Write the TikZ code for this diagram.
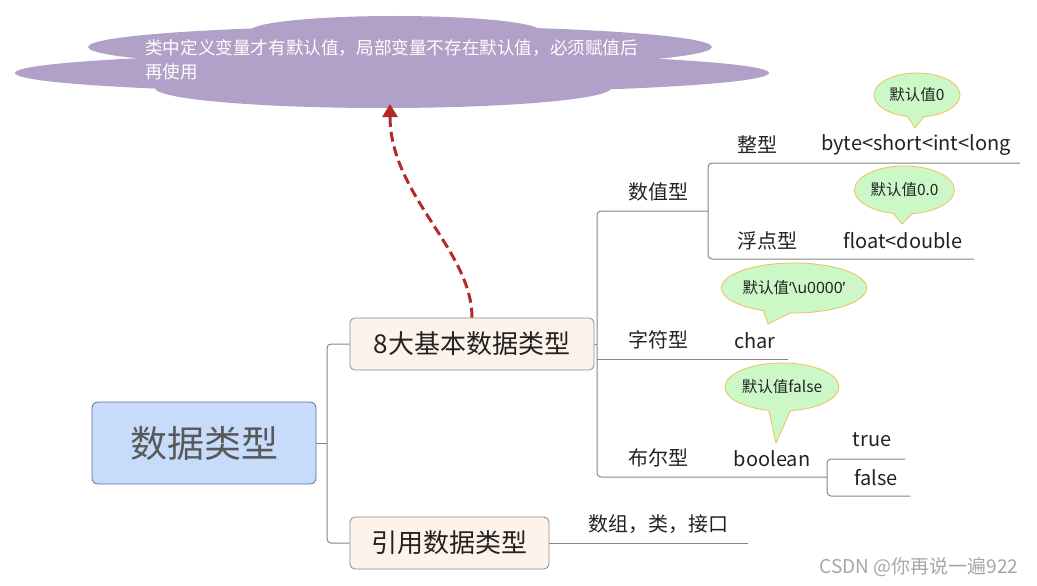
\documentclass[tikz,border=0pt]{standalone}
\usepackage{fontspec}
\setmainfont{Noto Sans CJK SC}
\newfontfamily\latinfont{Noto Sans}
\usetikzlibrary{shapes.geometric,shapes.callouts,calc,arrows.meta}
\definecolor{cloudc}{HTML}{B1A0C7}
\definecolor{arrowc}{HTML}{B22A2A}
\definecolor{rootfill}{HTML}{C7DBFA}
\definecolor{rootline}{HTML}{5A6FA0}
\definecolor{roottext}{HTML}{595959}
\definecolor{topfill}{HTML}{FDF3EA}
\definecolor{topline}{HTML}{8F8880}
\definecolor{textc}{HTML}{222222}
\definecolor{linec}{HTML}{858585}
\definecolor{callfill}{HTML}{CCF8C8}
\definecolor{callline}{HTML}{EDC25A}
\definecolor{markc}{HTML}{A6A6A6}
\begin{document}
\begin{tikzpicture}[x=1pt,y=-1pt,
  rootbox/.style={draw=rootline, fill=rootfill, rounded corners=6pt, line width=0.8pt,
    minimum width=224pt, minimum height=82pt, text=roottext, font=\fontsize{37}{40}\selectfont},
  topicbox/.style={draw=topline, fill=topfill, rounded corners=5pt, line width=0.8pt,
    minimum height=52pt, text=textc, font=\fontsize{26}{30}\selectfont},
  sub/.style={inner sep=0pt, text=textc, font=\fontsize{20}{24}\selectfont},
  conn/.style={draw=linec, line width=1pt, rounded corners=4pt},
  callout/.style={ellipse callout, draw=callline, fill=callfill, line width=0.8pt, inner sep=0pt,
    text=textc, font=\fontsize{15.5}{18}\selectfont, callout pointer arc=22},
  redarrow/.style={draw=arrowc, line width=3pt, dash pattern=on 10pt off 5pt,
    -{Triangle[width=15pt,length=13pt]}}
]
\useasboundingbox (0,0) rectangle (1037,586);

% cloud
\fill[cloudc] (392,73) ellipse [x radius=377, y radius=20];
\fill[cloudc] (400,47) ellipse [x radius=312, y radius=21];
\fill[cloudc] (395,31) ellipse [x radius=145, y radius=15];
\fill[cloudc] (383,88) ellipse [x radius=228, y radius=20];
\node[anchor=west, inner sep=0pt, align=left, text=white, font=\fontsize{17.6}{24}\selectfont] (cloudtxt) at (145,60)
  {类中定义变量才有默认值，局部变量不存在默认值，必须赋值后\\再使用};
\coordinate (cloudpt) at (390,104);

% main nodes
\node[rootbox] (root) at (204,443) {数据类型};
\node[topicbox, minimum width=244pt] (basic) at (472,344) {8大基本数据类型};
\node[topicbox, minimum width=199pt] (ref) at (449.5,543) {引用数据类型};

% left connectors
\coordinate (j0) at (327,443);
\draw[conn] (root.east) -- (j0);
\draw[conn] (basic.west) -| (j0) |- (ref.west);

% text labels
\node[sub] (num) at (658,192) {数值型};
\node[sub] (intt) at (757,145) {整型};
\node[sub] (intv) at (916,145) {byte<short<int<long};
\node[sub] (flt) at (767,241) {浮点型};
\node[sub] (fltv) at (903,241) {float<double};
\node[sub] (chr) at (658,340) {字符型};
\node[sub] (chrv) at (755,341) {char};
\node[sub] (bool) at (658,458) {布尔型};
\node[sub] (boolv) at (772,459) {boolean};
\node[sub] (tru) at (872,440) {true};
\node[sub] (fls) at (876,478) {false};
\node[sub] (refv) at (658,524) {数组，类，接口};

% right connectors
\coordinate (t0) at (597,345);
\coordinate (u1s) at (597,211); \coordinate (u1e) at (708,211);
\coordinate (u2s) at (597,359); \coordinate (u2e) at (788,359);
\coordinate (u3s) at (597,477); \coordinate (u3e) at (827,477);
\draw[conn] (basic.east) -- (t0);
\draw[conn] (u1e) -- (u1s) -- (u3s) -- (u3e);
\draw[conn] (u2s) -- (u2e);
\coordinate (v1) at (1020,163); \coordinate (v2) at (974,259);
\draw[conn] (v1) -- (708,163) -- (708,259) -- (v2);
\coordinate (w1) at (905,459); \coordinate (w2) at (910,496);
\draw[conn] (w1) -- (827,459) -- (827,496) -- (w2);
\coordinate (r1) at (748,543);
\draw[conn] (ref.east) -- (r1);

% callouts
\node[callout, minimum width=86pt, minimum height=44pt, callout absolute pointer={(915,128)}] (c1) at (917,95) {默认值0};
\node[callout, minimum width=100pt, minimum height=48pt, callout absolute pointer={(902,224)}] (c2) at (904.5,190) {默认值0.0};
\node[callout, minimum width=138pt, minimum height=50pt, callout absolute pointer={(768,324)}] (c3) at (794,288) {默认值{\latinfont ‘\textbackslash u0000’}};
\node[callout, minimum width=114pt, minimum height=48pt, callout absolute pointer={(776,443)}] (c4) at (782,387) {默认值false};

% red dashed arrow
\draw[redarrow] (basic.north) .. controls (472,250) and (390,195) .. (cloudpt);

% watermark
\node[text=markc, font=\fontsize{19}{22}\selectfont, inner sep=0pt] (mark) at (919,567) {CSDN @你再说一遍922};
\end{tikzpicture}
\end{document}
